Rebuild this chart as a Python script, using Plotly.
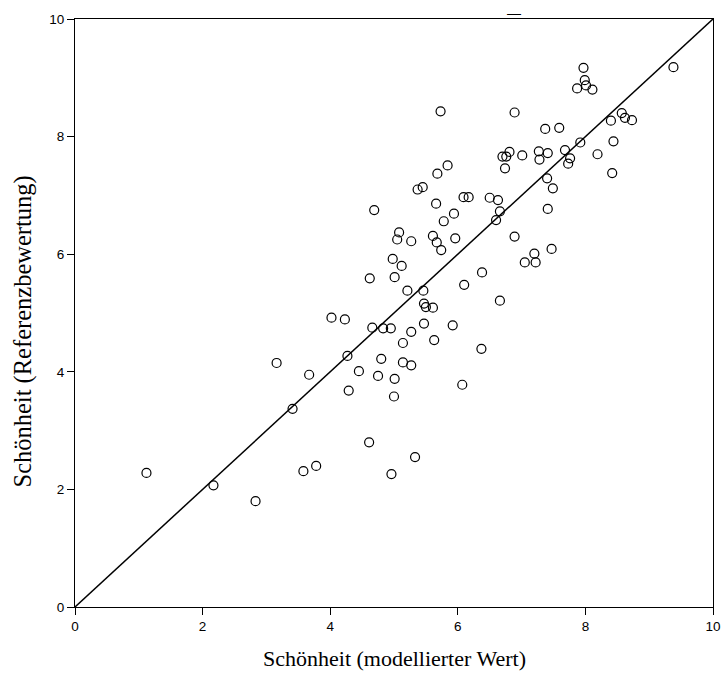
import plotly.graph_objects as go

modelled = [1.12, 2.17, 2.83, 3.16, 3.41, 3.58, 3.67, 3.78, 4.02, 4.23,
            4.27, 4.29, 4.45, 4.62, 4.61, 4.69, 4.66, 4.75, 4.80, 4.83,
            4.95, 4.96, 4.98, 5.01, 5.01, 5.00, 5.05, 5.08, 5.12, 5.14,
            5.14, 5.21, 5.27, 5.27, 5.27, 5.33, 5.37, 5.45, 5.46, 5.47,
            5.50, 5.61, 5.47, 5.61, 5.63, 5.67, 5.66, 5.68, 5.73, 5.74,
            5.78, 5.84, 5.92, 5.94, 5.96, 6.07, 6.09, 6.17, 6.10, 6.37,
            6.38, 6.50, 6.63, 6.60, 6.66, 6.66, 6.70, 6.76, 6.81, 6.74,
            6.89, 6.89, 7.01, 7.05, 7.20, 7.22, 7.27, 7.28, 7.37, 7.41,
            7.40, 7.41, 7.47, 7.49, 7.59, 7.68, 7.76, 7.73, 7.87, 7.97,
            7.99, 8.01, 8.11, 7.92, 8.19, 8.40, 8.44, 8.42, 8.57, 8.62,
            8.73, 9.38]
reference = [2.28, 2.07, 1.80, 4.15, 3.37, 2.31, 3.95, 2.40, 4.92, 4.89,
             4.27, 3.68, 4.01, 5.59, 2.80, 6.75, 4.75, 3.93, 4.22, 4.74,
             4.74, 2.26, 5.92, 5.61, 3.88, 3.58, 6.25, 6.37, 5.80, 4.49,
             4.16, 5.38, 6.22, 4.68, 4.11, 2.55, 7.10, 7.14, 5.38, 4.82,
             5.10, 6.31, 5.16, 5.09, 4.54, 6.20, 6.86, 7.37, 8.43, 6.07,
             6.56, 7.51, 4.79, 6.69, 6.27, 3.78, 6.97, 6.97, 5.48, 4.39,
             5.69, 6.96, 6.92, 6.58, 6.73, 5.21, 7.66, 7.66, 7.74, 7.46,
             8.41, 6.30, 7.68, 5.86, 6.01, 5.86, 7.75, 7.61, 8.13, 7.72,
             7.29, 6.77, 6.09, 7.12, 8.15, 7.77, 7.63, 7.54, 8.82, 9.17,
             8.96, 8.87, 8.80, 7.90, 7.70, 8.27, 7.92, 7.38, 8.40, 8.32,
             8.28, 9.18]
diag = [0, 10]
tick_vals = [0, 2, 4, 6, 8, 10]
tick_text = ["0", "2", "4", "6", "8", "10"]
x_title = "Schönheit (modellierter Wert)"
y_title = "Schönheit (Referenzbewertung)"

fig = go.Figure()
fig.add_trace(go.Scatter(x=diag, y=diag, mode="lines",
                         line=dict(color="black", width=1.5),
                         hoverinfo="skip", showlegend=False))
fig.add_trace(go.Scatter(x=modelled, y=reference, mode="markers",
                         marker=dict(symbol="circle-open", size=9,
                                     color="black", line=dict(width=1.2)),
                         showlegend=False))

axis_common = dict(range=[0, 10], tickvals=tick_vals, ticktext=tick_text,
                   showgrid=False, zeroline=False, showline=True,
                   linecolor="black", linewidth=1.2, mirror=True,
                   ticks="outside", ticklen=7, tickwidth=1.2,
                   tickcolor="black", automargin=False,
                   tickfont=dict(family="Liberation Sans", size=13.5,
                                 color="black"))

fig.update_xaxes(**axis_common)
fig.update_yaxes(**axis_common)

fig.add_annotation(text=x_title, xref="paper", yref="paper",
                   x=0.5, y=-0.0884, xanchor="center", yanchor="middle",
                   showarrow=False,
                   font=dict(family="Liberation Serif", size=22,
                             color="black"))
fig.add_annotation(text=y_title, xref="paper", yref="paper",
                   x=-0.082, y=0.468, xanchor="center", yanchor="middle",
                   textangle=-90, showarrow=False,
                   font=dict(family="Liberation Serif", size=24.5,
                             color="black"))

fig.add_annotation(text="—", xref="paper", yref="paper", x=0.688, y=1.011,
                   showarrow=False, xanchor="center", yanchor="middle",
                   font=dict(family="Liberation Sans", size=14, color="black"))

fig.update_layout(width=721, height=673,
                  margin=dict(l=75, r=8, t=19, b=66),
                  paper_bgcolor="white", plot_bgcolor="white")

fig.write_html("out.html")
